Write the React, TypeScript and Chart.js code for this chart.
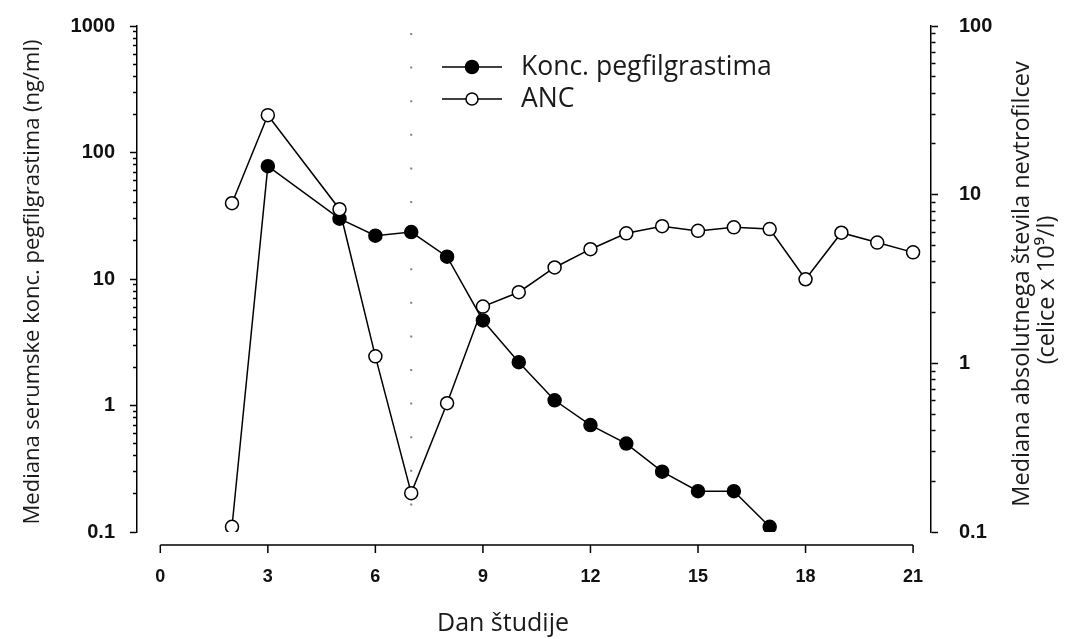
import { useEffect, useRef } from "react";
import { Chart, registerables } from "chart.js";
Chart.register(...registerables);

// ---- data ----
const PEG_DAYS = [2, 3, 5, 6, 7, 8, 9, 10, 11, 12, 13, 14, 15, 16, 17];
const PEG_CONC = [0.11, 78, 30, 22, 23.5, 15, 4.7, 2.2, 1.1, 0.7, 0.5, 0.3, 0.21, 0.21, 0.11];
const ANC_DAYS = [2, 3, 5, 6, 7, 8, 9, 10, 11, 12, 13, 14, 15, 16, 17, 18, 19, 20, 21];
const ANC_VALUES = [8.9, 29.6, 8.2, 1.1, 0.17, 0.58, 2.17, 2.64, 3.7, 4.75, 5.9, 6.5, 6.1, 6.4, 6.25, 3.15, 5.95, 5.2, 4.55];
const X_TICKS = [0, 3, 6, 9, 12, 15, 18, 21];
const LEFT_DECADES = [0.1, 1, 10, 100, 1000];
const RIGHT_DECADES = [0.1, 1, 10, 100];
const DOSE_DAY = 7;
const LEGEND_LABELS = ["Konc. pegfilgrastima", "ANC"];
const X_TITLE = "Dan študije";
const LEFT_TITLE = "Mediana serumske konc. pegfilgrastima (ng/ml)";
const RIGHT_TITLE = ["Mediana absolutnega števila nevtrofilcev", "(celice x 10⁹/l)"];

const TEXT_FONT = '"Open Sans", "Noto Sans", sans-serif';
const TICK_FONT = '"Liberation Sans", Arial, sans-serif';

function logTicks(decades: number[]) {
  const out: { value: number; major: boolean }[] = [];
  for (let i = 0; i < decades.length; i++) {
    const d = decades[i];
    out.push({ value: d, major: true });
    if (i < decades.length - 1) {
      for (let m = 2; m <= 9; m++) out.push({ value: +(d * m).toPrecision(4), major: false });
    }
  }
  return out;
}

const decorPlugin = {
  id: "decor",
  beforeDatasetsDraw(chart: any) {
    const { ctx, scales } = chart;
    const px = scales.x.getPixelForValue(DOSE_DAY);
    ctx.save();
    ctx.strokeStyle = "#808080";
    ctx.lineWidth = 2;
    ctx.setLineDash([2, 31.6]);
    ctx.beginPath();
    ctx.moveTo(px, 33);
    ctx.lineTo(px, 508);
    ctx.stroke();
    ctx.restore();
  },
  afterDraw(chart: any) {
    const { ctx, scales, chartArea } = chart;
    const x = scales.x;
    ctx.save();
    // x axis line + ticks
    const ay = chartArea.bottom + 13;
    ctx.strokeStyle = "#000";
    ctx.lineWidth = 1.5;
    ctx.beginPath();
    ctx.moveTo(x.getPixelForValue(X_TICKS[0]), ay);
    ctx.lineTo(x.getPixelForValue(X_TICKS[X_TICKS.length - 1]), ay);
    for (const t of X_TICKS) {
      const p = x.getPixelForValue(t);
      ctx.moveTo(p, ay);
      ctx.lineTo(p, ay + 8);
    }
    ctx.stroke();

    ctx.fillStyle = "#1a1a1a";
    ctx.textAlign = "center";
    ctx.textBaseline = "middle";
    // x title
    ctx.font = `25px ${TEXT_FONT}`;
    ctx.fillText(X_TITLE, 503, 624);
    // left title
    ctx.save();
    ctx.translate(33, 282);
    ctx.rotate(-Math.PI / 2);
    ctx.font = `22px ${TEXT_FONT}`;
    ctx.fillText(LEFT_TITLE, 0, 0);
    ctx.restore();
    // right title
    ctx.save();
    ctx.translate(1022, 284);
    ctx.rotate(-Math.PI / 2);
    ctx.font = `23.5px ${TEXT_FONT}`;
    ctx.fillText(RIGHT_TITLE[0], 0, 0);
    ctx.fillText(RIGHT_TITLE[1], -6, 25);
    ctx.restore();

    // legend
    const rows = [67, 99];
    chart.data.datasets.forEach((ds: any, i: number) => {
      const y = rows[i];
      ctx.strokeStyle = "#000";
      ctx.lineWidth = 1.5;
      ctx.beginPath();
      ctx.moveTo(442, y);
      ctx.lineTo(502, y);
      ctx.stroke();
      ctx.beginPath();
      ctx.arc(472, y, i === 0 ? 6.5 : 6, 0, Math.PI * 2);
      ctx.fillStyle = i === 0 ? "#000" : "#fff";
      ctx.fill();
      ctx.stroke();
      ctx.fillStyle = "#1a1a1a";
      ctx.textAlign = "left";
      ctx.font = `26.5px ${TEXT_FONT}`;
      ctx.fillText(ds.label, 521, y);
    });
    ctx.restore();
  },
};

function yAxis(position: "left" | "right", decades: number[], width: number) {
  const isLeft = position === "left";
  return {
    type: "logarithmic",
    position,
    min: decades[0],
    max: decades[decades.length - 1],
    afterBuildTicks: (scale: any) => {
      scale.ticks = logTicks(decades);
    },
    afterFit: (scale: any) => {
      scale.width = width;
      scale.paddingTop = 0;
      scale.paddingBottom = 0;
    },
    border: { display: true, color: "#000", width: 1.5 },
    grid: {
      display: true,
      drawOnChartArea: false,
      drawTicks: true,
      tickLength: 7,
      tickColor: "#000",
      tickWidth: 1.5,
      tickBorderDash: (c: any) => (c.tick && c.tick.major ? [] : [4, 100]),
      tickBorderDashOffset: (c: any) => (c.tick && c.tick.major ? 0 : isLeft ? 101 : 0),
    },
    ticks: {
      autoSkip: false,
      padding: isLeft ? 15 : 21,
      color: "#111",
      font: { family: TICK_FONT, size: 20, weight: "bold" },
      callback: (v: any, i: number, ticks: any[]) => (ticks[i] && ticks[i].major ? String(v) : ""),
    },
  };
}

export default function App() {
  const ref = useRef<HTMLCanvasElement>(null);
  useEffect(() => {
    document.body.style.margin = "0";
    const canvas = ref.current!;
    const chart = new Chart(canvas, {
      type: "line",
      data: {
        datasets: [
          {
            label: LEGEND_LABELS[0],
            data: PEG_DAYS.map((d, i) => ({ x: d, y: PEG_CONC[i] })),
            yAxisID: "yL",
            borderColor: "#000",
            borderWidth: 1.5,
            pointRadius: 6.5,
            pointBorderWidth: 1.5,
            pointBorderColor: "#000",
            pointBackgroundColor: (c: any) => (c.dataIndex === 0 ? "#fff" : "#000"),
            tension: 0,
            fill: false,
            order: 1,
          },
          {
            label: LEGEND_LABELS[1],
            data: ANC_DAYS.map((d, i) => ({ x: d, y: ANC_VALUES[i] })),
            yAxisID: "yR",
            borderColor: "#000",
            borderWidth: 1.5,
            pointRadius: 6.5,
            pointBorderWidth: 1.5,
            pointBorderColor: "#000",
            pointBackgroundColor: "#fff",
            tension: 0,
            fill: false,
            order: 0,
          },
        ],
      } as any,
      options: {
        responsive: false,
        animation: false,
        layout: { padding: { top: 26, left: 0, right: 0, bottom: 0 } },
        plugins: { legend: { display: false }, tooltip: { enabled: false } },
        scales: {
          x: {
            type: "linear",
            min: -0.65,
            max: 21.5,
            afterBuildTicks: (scale: any) => {
              scale.ticks = X_TICKS.map((v) => ({ value: v }));
            },
            afterFit: (scale: any) => {
              scale.height = 107;
            },
            border: { display: false },
            grid: { display: false, drawTicks: false },
            ticks: {
              autoSkip: false,
              maxRotation: 0,
              padding: 34,
              color: "#111",
              font: { family: TICK_FONT, size: 18, weight: "bold" },
            },
          },
          yL: yAxis("left", LEFT_DECADES, 137),
          yR: yAxis("right", RIGHT_DECADES, 136),
        } as any,
      },
      plugins: [decorPlugin],
    } as any);
    return () => chart.destroy();
  }, []);
  return (
    <div style={{ position: "fixed", left: 0, top: 0, width: 1067, height: 639, background: "#fff" }}>
      <canvas ref={ref} width={1067} height={639} />
    </div>
  );
}
